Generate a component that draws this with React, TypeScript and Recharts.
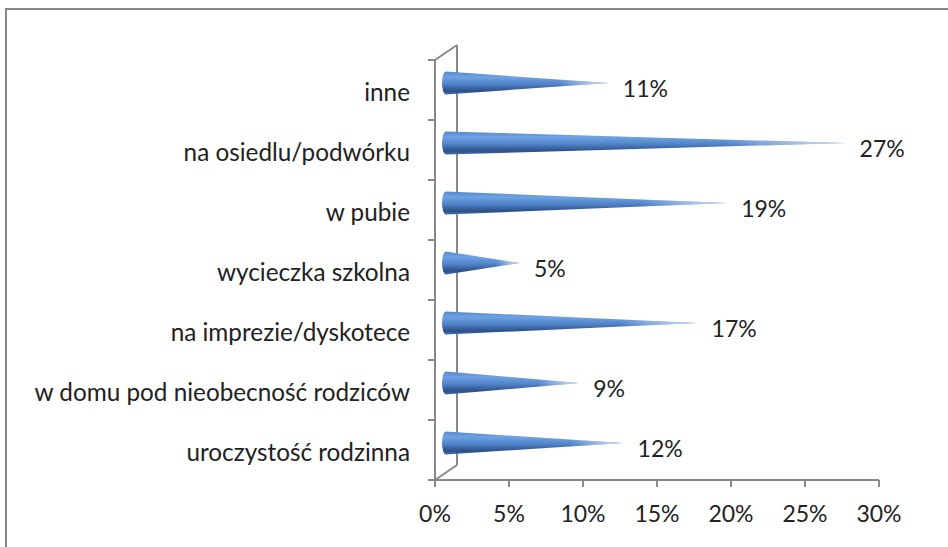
import React from 'react';
import { BarChart, Bar, XAxis, YAxis, LabelList } from 'recharts';

const categories = [
    'inne',
    'na osiedlu/podwórku',
    'w pubie',
    'wycieczka szkolna',
    'na imprezie/dyskotece',
    'w domu pod nieobecność rodziców',
    'uroczystość rodzinna',
];
const shares = [0.11, 0.27, 0.19, 0.05, 0.17, 0.09, 0.12];
const xTicks = [0, 0.05, 0.1, 0.15, 0.2, 0.25, 0.3];

const W = 948;
const H = 547;
// plot area (kept in sync with chart margins / axis sizes below)
const PLOT = { left: 435, top: 60, right: 879, bottom: 480 };
// 3D depth offset of the back wall
const DEPTH = { dx: 22, dy: -15 };
const AXIS = '#898989';
const FONT = 'Lato, "Liberation Sans", sans-serif';

const data = categories.map((name, i) => ({ name, value: shares[i] }));

const pct = (v: number) => `${Math.round(v * 100)}%`;

const Cone = (props: any) => {
    const { x, y, width, height } = props;
    const bx = x + DEPTH.dx / 2;
    const cy = y + height / 2 + DEPTH.dy / 2;
    const r = height / 2;
    const tip = bx + width;
    const d = `M${bx},${cy - r} L${tip},${cy} L${bx},${cy + r} A4,${r} 0 0 1 ${bx},${cy - r} Z`;
    return (
        <g>
            <path d={d} fill="url(#coneFill)" />
            <path d={d} fill="url(#coneTip)" />
        </g>
    );
};

const ValueLabel = (props: any) => {
    const { x, y, width, height, value } = props;
    return (
        <text
            x={x + width + DEPTH.dx / 2 + 14}
            y={y + height / 2 - 3}
            dominantBaseline="central"
            fontFamily={FONT}
            fontSize={23}
            fill="#222"
        >
            {pct(value)}
        </text>
    );
};

// back wall + boundary ticks of the category axis
const Walls = () => {
    const band = (PLOT.bottom - PLOT.top) / categories.length;
    const bounds = Array.from({ length: categories.length + 1 }, (_, i) => PLOT.top + i * band);
    return (
        <svg width={W} height={H} style={{ position: 'absolute', left: 0, top: 0 }}>
            <g stroke={AXIS} strokeWidth={2} fill="none">
                <line x1={PLOT.left + DEPTH.dx} y1={PLOT.top + DEPTH.dy} x2={PLOT.left + DEPTH.dx} y2={PLOT.bottom + DEPTH.dy} />
                <line x1={PLOT.left} y1={PLOT.top} x2={PLOT.left + DEPTH.dx} y2={PLOT.top + DEPTH.dy} />
                <line x1={PLOT.left} y1={PLOT.bottom} x2={PLOT.left + DEPTH.dx} y2={PLOT.bottom + DEPTH.dy} />
                {bounds.map((b) => (
                    <line key={b} x1={PLOT.left - 7} y1={b} x2={PLOT.left} y2={b} />
                ))}
            </g>
        </svg>
    );
};

export default function App() {
    return (
        <div style={{ position: 'absolute', left: 0, top: 0, width: W, height: H, overflow: 'hidden', background: '#fff' }}>
            <div
                style={{
                    position: 'absolute',
                    left: 5,
                    top: 8,
                    width: W,
                    height: H,
                    border: '2px solid #878787',
                }}
            />
            <Walls />
            <div style={{ position: 'absolute', left: 0, top: 0 }}>
                <BarChart
                    width={W}
                    height={H}
                    data={data}
                    layout="vertical"
                    margin={{ top: PLOT.top, right: W - PLOT.right, left: 0, bottom: 0 }}
                >
                    <defs>
                        <linearGradient id="coneFill" x1="0" y1="0" x2="0" y2="1">
                            <stop offset="0%" stopColor="#5489d0" />
                            <stop offset="25%" stopColor="#6ea2e2" />
                            <stop offset="55%" stopColor="#5183c8" />
                            <stop offset="85%" stopColor="#2c5088" />
                            <stop offset="100%" stopColor="#4470aa" />
                        </linearGradient>
                        <linearGradient id="coneTip" x1="0" y1="0" x2="1" y2="0">
                            <stop offset="70%" stopColor="#ffffff" stopOpacity={0} />
                            <stop offset="100%" stopColor="#e6eefa" stopOpacity={0.85} />
                        </linearGradient>
                    </defs>
                    <XAxis
                        type="number"
                        domain={[0, 0.3]}
                        ticks={xTicks}
                        tickFormatter={pct}
                        height={H - PLOT.bottom}
                        axisLine={{ stroke: AXIS, strokeWidth: 2 }}
                        tickLine={{ stroke: AXIS, strokeWidth: 2 }}
                        tickSize={7}
                        tickMargin={19}
                        tick={{ fontFamily: FONT, fontSize: 23, fill: '#222' }}
                        interval={0}
                    />
                    <YAxis
                        type="category"
                        dataKey="name"
                        width={PLOT.left}
                        axisLine={{ stroke: AXIS, strokeWidth: 2 }}
                        tickLine={false}
                        tickSize={0}
                        tickMargin={25}
                        tick={{ fontFamily: FONT, fontSize: 24.3, fill: '#222', dy: 2 }}
                        interval={0}
                    />
                    <Bar dataKey="value" barSize={23} shape={<Cone />} isAnimationActive={false}>
                        <LabelList dataKey="value" content={<ValueLabel />} />
                    </Bar>
                </BarChart>
            </div>
        </div>
    );
}
